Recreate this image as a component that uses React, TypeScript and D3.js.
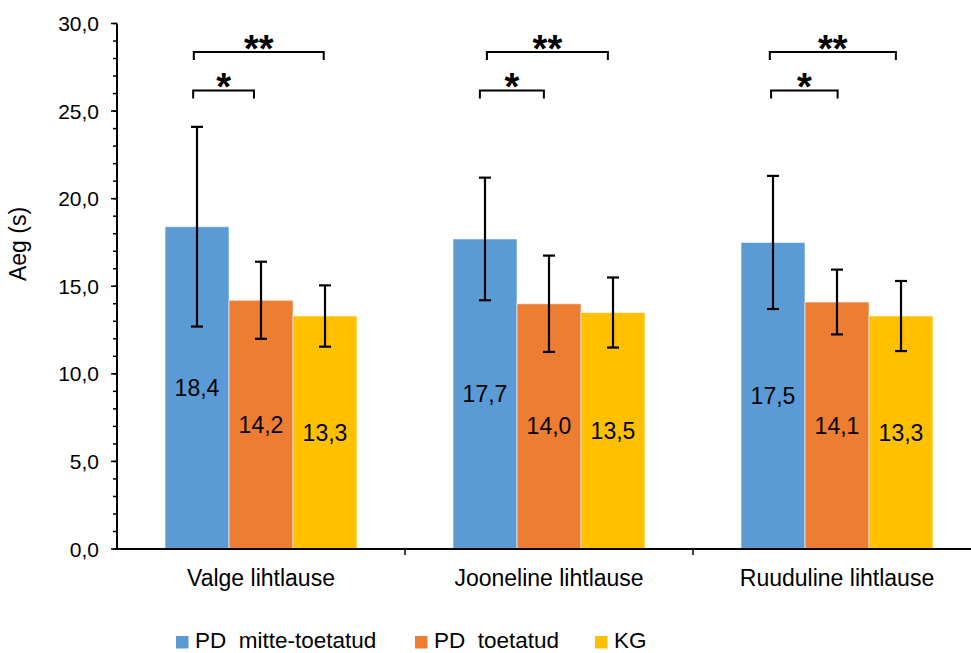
import React from "react";
import * as d3 from "d3";

const categories = ["Valge lihtlause", "Jooneline lihtlause", "Ruuduline lihtlause"];
const seriesNames = ["PD  mitte-toetatud", "PD  toetatud", "KG"];
const seriesColors = ["#5B9BD5", "#ED7D31", "#FFC000"];
const pdMitteToetatud = [18.4, 17.7, 17.5];
const pdToetatud = [14.2, 14.0, 14.1];
const kg = [13.3, 13.5, 13.3];
const errPdMitteToetatud = [5.7, 3.5, 3.8];
const errPdToetatud = [2.2, 2.75, 1.85];
const errKg = [1.75, 2.0, 2.0];
const yTicks = [0, 5, 10, 15, 20, 25, 30];
const yMinorTicks = d3.range(0, 31, 1);
// significance brackets: category index, from/to (in bar widths from group centre), level value, label
const sigCategory = [0, 0, 1, 1, 2, 2];
const sigFrom = [-1.05, -1.06, -0.97, -1.08, -1.05, -1.03];
const sigTo = [0.98, -0.11, 0.92, -0.08, 0.92, 0.01];
const sigLevel = [28.37, 26.18, 28.37, 26.18, 28.37, 26.18];
const sigLabel = ["**", "*", "**", "*", "**", "*"];

const W = 971;
const H = 653;
const left = 117;
const top = 23.5;
const bottom = 549;
const catW = 288;

export default function App() {
  const values = [pdMitteToetatud, pdToetatud, kg];
  const errs = [errPdMitteToetatud, errPdToetatud, errKg];
  const x = d3.scaleBand<string>().domain(categories).range([left, left + catW * 3]).padding(0);
  const groupW = x.bandwidth() * (2 / 3);
  const xs = d3
    .scaleBand<string>()
    .domain(seriesNames)
    .range([(x.bandwidth() - groupW) / 2, (x.bandwidth() + groupW) / 2])
    .padding(0);
  const bw = xs.bandwidth();
  const y = d3.scaleLinear().domain([0, 30]).range([bottom, top]);
  const fmt = (v: number) => v.toFixed(1).replace(".", ",");
  const font = "'Liberation Sans', Arial, sans-serif";
  const catCenter = (c: number) => (x(categories[c]) as number) + x.bandwidth() / 2;

  return (
    <svg
      width={W}
      height={H}
      style={{ position: "absolute", left: 0, top: 0, background: "#fff" }}
      fontFamily={font}
    >
      <rect x={0} y={0} width={W} height={H} fill="#fff" />
      {/* bars */}
      {categories.map((c, ci) =>
        seriesNames.map((s, si) => {
          const v = values[si][ci];
          const bx = (x(c) as number) + (xs(s) as number);
          return (
            <rect
              key={`b${ci}${si}`}
              x={bx}
              y={y(v)}
              width={bw}
              height={bottom - y(v)}
              fill={seriesColors[si]}
              stroke="rgba(255,255,255,0.6)"
              strokeWidth={1}
            />
          );
        })
      )}
      {/* data labels */}
      {categories.map((c, ci) =>
        seriesNames.map((s, si) => {
          const v = values[si][ci];
          const cx = (x(c) as number) + (xs(s) as number) + bw / 2;
          return (
            <text
              key={`l${ci}${si}`}
              x={cx}
              y={(y(v) + bottom) / 2}
              textAnchor="middle"
              dominantBaseline="central"
              fontSize={23}
              fill="#000"
            >
              {fmt(v)}
            </text>
          );
        })
      )}
      {/* error bars */}
      {categories.map((c, ci) =>
        seriesNames.map((s, si) => {
          const v = values[si][ci];
          const e = errs[si][ci];
          const cx = (x(c) as number) + (xs(s) as number) + bw / 2;
          return (
            <g key={`e${ci}${si}`} stroke="#000" strokeWidth={2.2}>
              <line x1={cx} x2={cx} y1={y(v + e)} y2={y(v - e)} />
              <line x1={cx - 6} x2={cx + 6} y1={y(v + e)} y2={y(v + e)} />
              <line x1={cx - 6} x2={cx + 6} y1={y(v - e)} y2={y(v - e)} />
            </g>
          );
        })
      )}
      {/* significance brackets */}
      {sigLabel.map((lab, i) => {
        const cc = catCenter(sigCategory[i]);
        const x1 = cc + sigFrom[i] * bw;
        const x2 = cc + sigTo[i] * bw;
        const yy = y(sigLevel[i]);
        return (
          <g key={`s${i}`}>
            <path
              d={`M${x1},${yy + 8}V${yy}H${x2}V${yy + 8}`}
              fill="none"
              stroke="#000"
              strokeWidth={2}
            />
            <text
              x={(x1 + x2) / 2}
              y={yy + 10}
              textAnchor="middle"
              fontSize={38}
              fontWeight="bold"
              fill="#000"
            >
              {lab}
            </text>
          </g>
        );
      })}
      {/* y axis */}
      <line x1={left} x2={left} y1={top} y2={bottom} stroke="#000" strokeWidth={2} />
      {yMinorTicks.map((t) => (
        <line key={`m${t}`} x1={left - 4} x2={left} y1={y(t)} y2={y(t)} stroke="#000" strokeWidth={1.5} />
      ))}
      {yTicks.map((t) => (
        <g key={`t${t}`}>
          <line x1={left - 6} x2={left} y1={y(t)} y2={y(t)} stroke="#000" strokeWidth={1.5} />
          <text x={99} y={y(t)} textAnchor="end" dominantBaseline="central" fontSize={21} fill="#000">
            {fmt(t)}
          </text>
        </g>
      ))}
      {/* x axis */}
      <line x1={left} x2={left + catW * 3} y1={bottom} y2={bottom} stroke="#000" strokeWidth={2} />
      {categories.map((c, ci) => (
        <g key={`c${ci}`}>
          <line
            x1={(x(c) as number) + x.bandwidth()}
            x2={(x(c) as number) + x.bandwidth()}
            y1={bottom}
            y2={bottom + 6}
            stroke="#000"
            strokeWidth={1.5}
          />
          <text x={catCenter(ci)} y={586} textAnchor="middle" fontSize={23} fill="#000">
            {c}
          </text>
        </g>
      ))}
      {/* y title */}
      <text
        transform={`translate(26,244) rotate(-90)`}
        textAnchor="middle"
        fontSize={23}
        fill="#000"
      >
        Aeg (s)
      </text>
      {/* legend */}
      {seriesNames.map((s, si) => {
        const lx = [176, 415, 595][si];
        return (
          <g key={`lg${si}`}>
            <rect x={lx} y={636} width={12.5} height={12.5} fill={seriesColors[si]} />
            <text x={lx + 19} y={647.5} fontSize={22.5} fill="#000" style={{ whiteSpace: "pre" }}>
              {s}
            </text>
          </g>
        );
      })}
    </svg>
  );
}
